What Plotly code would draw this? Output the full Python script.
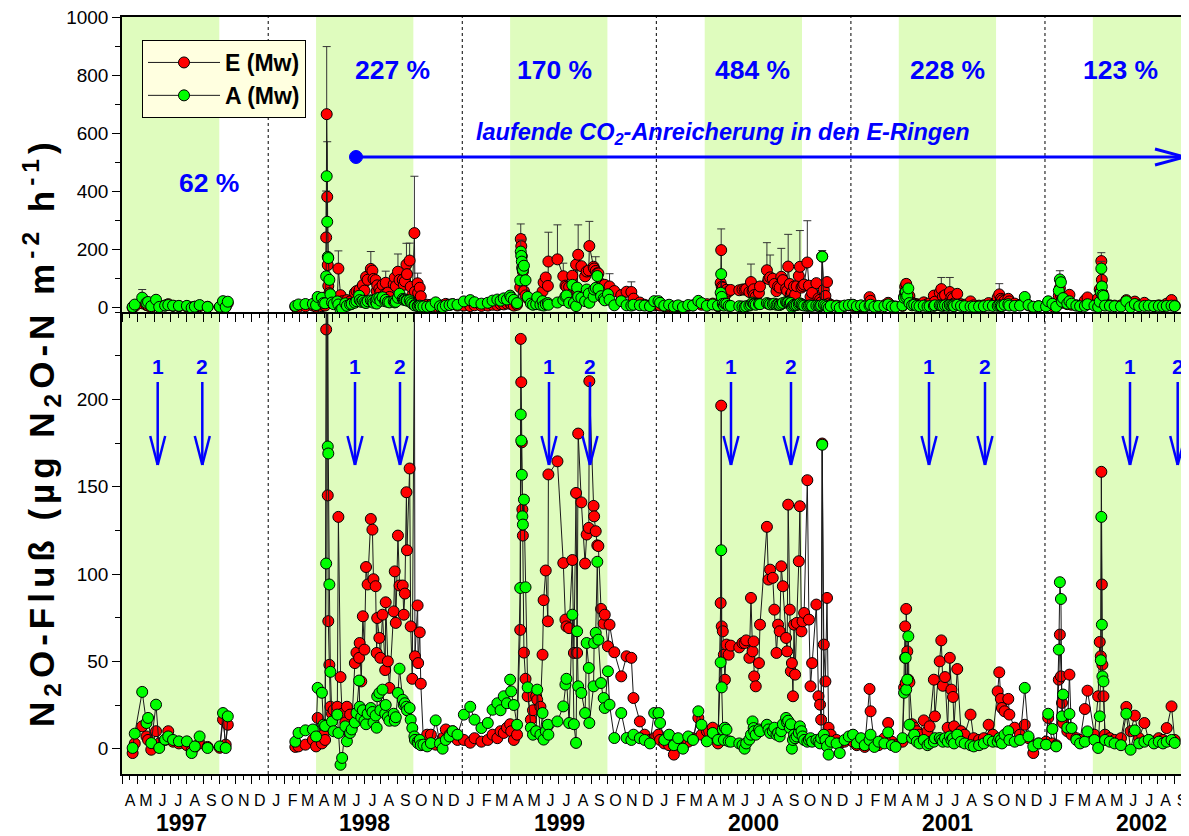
import plotly.graph_objects as go

# ---------------- data ----------------
d97 = ["1997-04-21","1997-04-25","1997-05-09","1997-05-17","1997-05-20","1997-05-26","1997-06-04","1997-06-10",
       "1997-06-21","1997-06-27","1997-07-06","1997-07-17","1997-08-01","1997-08-10","1997-08-16","1997-08-25",
       "1997-09-09","1997-10-02","1997-10-08","1997-10-13","1997-10-17"]
E97 = [-2.5, 3, 12.8, 7, 5, -0.6, 10, 3, 5, 10, 4, 3, 2, -1, 1, 3, 1, 0.5, 16.6, 2.3, 13.7]
A97 = [0.4, 8.6, 32.5, 14.7, 17.6, 3.2, 25.2, 0.4, 5.2, 7, 5, 4.2, 4.2, -2.5, 1.3, 7, 0.4, 1.3, 20.4, 0.4, 18.5]

d98 = ["1998-02-21","1998-02-27","1998-03-12","1998-03-26","1998-04-01","1998-04-04","1998-04-12","1998-04-15",
       "1998-04-18","1998-04-20","1998-04-21","1998-04-22","1998-04-23","1998-04-24","1998-04-26","1998-04-28",
       "1998-05-01","1998-05-04","1998-05-11","1998-05-13","1998-05-17","1998-05-20","1998-05-26","1998-05-29",
       "1998-06-04","1998-06-07","1998-06-13","1998-06-16","1998-06-21","1998-06-22","1998-06-25","1998-06-28",
       "1998-07-01","1998-07-04","1998-07-07","1998-07-13","1998-07-16","1998-07-18","1998-07-22","1998-07-24",
       "1998-07-25","1998-07-29","1998-07-31","1998-08-04","1998-08-09","1998-08-10","1998-08-14","1998-08-17",
       "1998-08-25","1998-08-27","1998-08-29","1998-09-02","1998-09-05","1998-09-11","1998-09-13","1998-09-15",
       "1998-09-18","1998-09-19","1998-09-24","1998-09-26","1998-09-29","1998-10-03","1998-10-04","1998-10-09",
       "1998-10-10","1998-10-13","1998-10-15","1998-10-20","1998-10-27","1998-11-03","1998-11-12","1998-11-20",
       "1998-11-25","1998-12-01","1998-12-08","1998-12-14","1998-12-23"]
E98 = [1, 1.3, 2.3, 5, 1.3, 17.6, 3, 8, 5, 240, 665, 380, 145, 73, 48, 24, 20, 22, 24, 132.7, 41, 20, 15, 24,
       19.5, 12, 49, 55, 52, 60.5, 38.5, 75.8, 56.7, 104, 94, 131.5, 125.4, 97, 93, 54.8, 74.8, 63.4, 52, 76.7,
       45, 83.8, 50, 34.8, 78.6, 101.5, 72, 122, 93.4, 93.4, 76.7, 88.8, 146.8, 113.6, 160.4, 70, 40, 255, 52.9,
       82, 49, 66.6, 37.2, 4, 8, 8, 2.3, 3, 6, 11, 8, 10, 5]
A98 = [4, 9, 10.5, 11, 7, 34.8, 32, 13.7, 13, 106, 451, 294, 173, 169, 94, 44, 15.6, 10, 19.5, 9, -9.2, -5.3,
       12.8, 4.2, 9, 11, 15, 20.4, 39, 24, 18, 22, 16, 14, 20, 23.3, 21, 15, 19, 12, 30, 31.9, 22, 33.8, 20, 25,
       18, 16, 20, 16, 18, 31.9, 45.8, 28, 25, 26, 24, 22, 23.3, 16.6, 11.8, 7, 5, 4, 3, 5, 2, 2.3, 1.3, 3.2,
       16.2, 3, 0, 5, 7, 10, 8]

d99 = ["1999-01-04","1999-01-16","1999-01-24","1999-02-06","1999-02-18","1999-02-27","1999-03-08","1999-03-14",
       "1999-03-20","1999-03-26","1999-04-01","1999-04-03","1999-04-08","1999-04-14","1999-04-20","1999-04-21",
       "1999-04-22","1999-04-23","1999-04-24","1999-04-25","1999-04-27","1999-04-30","1999-05-04","1999-05-10",
       "1999-05-14","1999-05-20","1999-05-22","1999-05-28","1999-06-01","1999-06-03","1999-06-07","1999-06-11",
       "1999-06-12","1999-06-29","1999-07-10","1999-07-14","1999-07-16","1999-07-21","1999-07-27","1999-07-30",
       "1999-08-03","1999-08-05","1999-08-07","1999-08-13","1999-08-20","1999-08-23","1999-08-27","1999-08-28",
       "1999-09-05","1999-09-06","1999-09-09","1999-09-12","1999-09-14","1999-09-19","1999-09-24","1999-09-26",
       "1999-10-02","1999-10-05","1999-10-14","1999-10-27","1999-11-06","1999-11-15","1999-11-19","1999-12-01",
       "1999-12-10","1999-12-20","1999-12-28"]
E99 = [5, 3.4, 6, 4, 5, 8, 6, 10, 9, 12, 14, 10, 5, 8, 68, 234.6, 209.8, 175.4, 137, 122, 55, 40, 30, 16.6, 22,
       30, 28, 24, 53.8, 85, 102, 72.9, 157, 164.5, 106.3, 73.9, 70, 69, 108, 54.8, 146.4, 54.8, 180.4, 141, 106,
       122.6, 126.4, 210.4, 139, 133, 124.5, 116.4, 116, 80, 71.6, 76.7, 58.6, 71, 55.2, 41.4, 52.9, 52, 29, 15.6,
       8, 5, 6]
A99 = [19.5, 24, 16.6, 11.8, 14.7, 22.3, 26, 22, 30, 26, 39.5, 32.8, 25, 13.7, 92, 191.3, 176.4, 156.8, 133,
       128.3, 142.6, 92.4, 35.1, 12, 8, 10, 33.8, 8, 20.4, 5.2, 10, 13.7, 8, 15.6, 24.2, 36.7, 40, 14.7, 76.7, 14,
       3.3, 67.2, 35.7, 31.9, 20.4, 60.5, 46.2, 14.7, 35.7, 60.5, 66.3, 107, 62.4, 37.6, 29, 23.3, 44.3, 25.2,
       6.1, 20.4, 6.1, 5, 8, 6, 5, 3, 20.4]

d00 = ["2000-01-05","2000-01-08","2000-01-16","2000-01-25","2000-02-03","2000-02-11","2000-02-20","2000-03-01",
       "2000-03-10","2000-03-20","2000-03-26","2000-04-05","2000-04-16","2000-04-26","2000-05-01","2000-05-02",
       "2000-05-03","2000-05-05","2000-05-07","2000-05-09","2000-05-12","2000-05-16","2000-05-20","2000-06-05",
       "2000-06-11","2000-06-15","2000-06-18","2000-06-24","2000-06-27","2000-06-30","2000-07-02","2000-07-03",
       "2000-07-06","2000-07-12","2000-07-14","2000-07-27","2000-07-30","2000-08-02","2000-08-07","2000-08-10",
       "2000-08-14","2000-08-17","2000-08-20","2000-08-23","2000-08-26","2000-09-01","2000-09-03","2000-09-05",
       "2000-09-08","2000-09-10","2000-09-12","2000-09-14","2000-09-16","2000-09-18","2000-09-21","2000-09-25",
       "2000-09-27","2000-09-30","2000-10-02","2000-10-05","2000-10-11","2000-10-14","2000-10-17","2000-10-20",
       "2000-10-28","2000-11-01","2000-11-04","2000-11-06","2000-11-08","2000-11-11","2000-11-14","2000-11-17",
       "2000-11-20","2000-11-24","2000-12-05","2000-12-11","2000-12-20","2000-12-28"]
E00 = [8, 5, 3, 2, -3.4, 3, 1, 4, 6, 17.6, 8, 10, 12, 3, 83.4, 196.4, 70, 67.2, 53.8, 39.5, 59.6, 53.8, 59, 58,
       60.5, 60.5, 62, 52, 86.3, 55.7, 61.4, 41.4, 35.7, 49, 71, 127, 96.8, 102.5, 97.8, 79.6, 54.8, 71, 67.2,
       104.4, 93, 63.4, 55.7, 139.7, 79.6, 44.3, 49, 30, 71, 42.4, 72, 107.3, 138.8, 67.2, 72.9, 77.7, 153.7,
       73.9, 35.7, 49, 82.5, 30, 25.2, 16.6, 174.7, 59.6, 38.5, 86.3, 12, 8, 5, 3, 4, 6]
A00 = [20.4, 14.7, 5, 8, 2, 6, 0, 7, 5, 21.4, 13.7, 4.2, 9, 5, 49.4, 113.6, 35.1, 10.9, 5, 12, 10.9, 4.2, 4, 3,
       2, 0, 3, 5.2, 8, 15.6, 11.8, 10, 8, 11, 10, 13.7, 11, 9, 10, 12, 8, 9, 7, 10, 14, 17.6, 15, 16, 12, 14, 0,
       5, 8, 6, 7, 9, 12.8, 10, 7, 5, 4, 5, 6, 4, 5, 4, 3, 6, 174, 8, 5, 1.3, -3.4, 4, 3, -2.5, 5, 7]

d01 = ["2001-01-05","2001-01-12","2001-01-20","2001-01-27","2001-02-05","2001-02-07","2001-02-14","2001-02-22",
       "2001-03-05","2001-03-12","2001-03-19","2001-03-26","2001-04-08","2001-04-11","2001-04-13","2001-04-14",
       "2001-04-15","2001-04-17","2001-04-19","2001-04-21","2001-04-26","2001-04-30","2001-05-05","2001-05-10",
       "2001-05-18","2001-05-25","2001-05-29","2001-06-06","2001-06-08","2001-06-17","2001-06-20","2001-06-23",
       "2001-06-27","2001-07-02","2001-07-06","2001-07-09","2001-07-12","2001-07-14","2001-07-20","2001-07-27",
       "2001-08-03","2001-08-14","2001-08-20","2001-08-30","2001-09-08","2001-09-17","2001-09-25","2001-10-04",
       "2001-10-07","2001-10-10","2001-10-12","2001-10-17","2001-10-24","2001-10-26","2001-11-05","2001-11-15",
       "2001-11-24","2001-12-01","2001-12-10","2001-12-20"]
E01 = [4, 2, 3, 1, 34.2, 21.4, 3, 2, 6, 14.7, 4, 2, 4, 35, 70, 37.6, 80, 55.7, 39.5, 38, 14, 12, 10, 8, 16.2, 10,
       12.8, 39.5, 18.5, 50, 62, 36, 41, 12, 52, 33.8, 29.6, 12.8, 45.6, 10, 8, 19.5, 6, 5, 6, 13.7, 8, 32.8,
       43.7, 28.5, 23.3, 21.4, 28.5, 19.5, 12, 8, 13.7, 6, -2.5, 3]
A01 = [8, 3, 6, 2, 5, 8, 1, 4, 3, 9.3, 2, 1, 6, 32, 52, 52, 33.8, 39.5, 64.3, 13.7, 6, 8, 4, 3, 5, 2, 3, 4, 6,
       6.1, 5, 4, 6, 4, 7, 5, 6, 3, 8, 4, 3, 2, 1.3, 2, 3, 5, 4, 4, 6, 5, 3, 8, 10, 5, 4, 5, 34.8, 7, 1.3, 3]

d02 = ["2002-01-03","2002-01-07","2002-01-15","2002-01-22","2002-01-27","2002-01-29","2002-01-31","2002-02-02",
       "2002-02-04","2002-02-12","2002-02-16","2002-02-20","2002-03-01","2002-03-08","2002-03-17","2002-03-22",
       "2002-04-04","2002-04-11","2002-04-14","2002-04-16","2002-04-17","2002-04-18","2002-04-19","2002-04-21",
       "2002-04-24","2002-05-03","2002-05-12","2002-05-24","2002-06-03","2002-06-11","2002-06-19","2002-06-27",
       "2002-07-07","2002-07-15","2002-07-25","2002-08-03","2002-08-11","2002-08-18","2002-08-27","2002-09-02"]
E02 = [4, 17.6, 3, 2, 39.5, 65.3, 41.4, 26.2, 14.7, 10, 42.4, 8, 6, 5, 22.7, 33.2, 8, 30, 61.1, 52.9, 158.5, 94,
       48.1, 30, 8, 6, 5, 6, 23.9, 10, 18.9, 6, 14.7, 5, 4, 6, 5, 11.8, 24.2, 5]
A02 = [2.3, 20, 11.3, 1.3, 56.7, 95.3, 85.7, 18.5, 31, 12, 19.9, 11.8, 5, 3, 4, 9.9, 5, 0.4, 18.5, 50.6, 132.7,
       71, 41.4, 38.5, 5, 4, 3, 2, 20, -0.6, 10.5, 3, 4, 5, 3, 4, 3, 4, 5, 3.3]

# upward error bars (top panel)
errE_dates = ["1998-04-21","1998-04-22","1998-04-20","1998-05-13","1998-07-13","1998-08-10","1998-09-02",
              "1998-09-18","1998-09-24","1998-10-03","1998-10-09","1999-04-21","1999-04-22","1999-06-12",
              "1999-06-29","1999-07-10","1999-08-07","1999-08-28","1999-09-09","1999-10-05","1999-11-15",
              "2000-05-02","2000-06-27","2000-07-27","2000-08-02","2000-08-23","2000-09-05","2000-09-27",
              "2000-10-11","2001-04-15","2001-06-20","2001-07-06","2001-10-07","2002-04-17"]
errE_vals = [233, 190, 160, 61, 60, 40, 61, 73, 60, 196, 35, 52, 40, 101, 119, 45, 103, 85, 49, 44, 35, 73, 62,
             95, 77, 98, 111, 125, 144, 15, 40, 50, 37, 29]
errA_dates = ["1997-05-09", "1999-04-21", "2000-11-08", "2002-01-29", "2002-04-17"]
errA_vals = [28, 40, 21, 30, 25]

percent_labels = ["62 %", "227 %", "170 %", "484 %", "228 %", "123 %"]
years = [1997, 1998, 1999, 2000, 2001, 2002]
MONTH_LETTERS = ["J", "F", "M", "A", "M", "J", "J", "A", "S", "O", "N", "D"]

# ---------------- assemble series ----------------
dates = d97 + ["1997-12-15"] + d98 + d99 + d00 + d01 + d02
E = E97 + [None] + E98 + E99 + E00 + E01 + E02
A = A97 + [None] + A98 + A99 + A00 + A01 + A02
assert len(dates) == len(E) == len(A)
emap = dict(zip(errE_dates, errE_vals))
amap = dict(zip(errA_dates, errA_vals))
errE = [emap.get(d, 0) for d in dates]
errA = [amap.get(d, 0) for d in dates]
zeros = [0] * len(dates)

# ---------------- geometry helpers ----------------
# the page places the figure 8 px from the top-left corner (default body margin)
OFF = 8
FONT = "Liberation Sans, Arial, sans-serif"
RED, GREEN, BLUE, BAND = "#FF0000", "#00FF00", "#0000FF", "#DFFCBE"
W, H = 1189 - OFF, 836 - OFF
PLOT_L, PLOT_R, PLOT_T, PLOT_B = 122, 1188, 17, 774   # page pixels of the plot area
ML, MT = PLOT_L - OFF, PLOT_T - OFF
MR = W - (PLOT_R - OFF)
MB = H - (PLOT_B - OFF)
PW, PH = PLOT_R - PLOT_L, PLOT_B - PLOT_T


def pxx(x):
    return (x - PLOT_L) / PW


def pxy(y):
    return (PLOT_B - y) / PH


SPLIT = pxy(312)

# month ticks
mid, starts, mtext = [], [], []
yy, mm = 1997, 4
while (yy, mm) <= (2002, 9):
    starts.append(f"{yy}-{mm:02d}-01")
    mid.append(f"{yy}-{mm:02d}-16")
    mtext.append(MONTH_LETTERS[mm - 1])
    mm += 1
    if mm > 12:
        mm, yy = 1, yy + 1
starts.append("2002-10-01")

fig = go.Figure()
mk = lambda c: dict(size=11, color=c, line=dict(color="black", width=1))
ln = dict(color="#1a1a1a", width=1)

# top panel
fig.add_trace(go.Scatter(x=dates, y=E, mode="lines+markers", marker=mk(RED), line=ln, xaxis="x2", yaxis="y2",
                         showlegend=False, error_y=dict(type="data", symmetric=False, array=errE,
                                                        arrayminus=zeros, color="#333333", thickness=1, width=4)))
fig.add_trace(go.Scatter(x=dates, y=A, mode="lines+markers", marker=mk(GREEN), line=ln, xaxis="x2", yaxis="y2",
                         showlegend=False, error_y=dict(type="data", symmetric=False, array=errA,
                                                        arrayminus=zeros, color="#333333", thickness=1, width=4)))
# bottom panel
fig.add_trace(go.Scatter(x=dates, y=E, mode="lines+markers", marker=mk(RED), line=ln, name="E (Mw)",
                         xaxis="x", yaxis="y"))
fig.add_trace(go.Scatter(x=dates, y=A, mode="lines+markers", marker=mk(GREEN), line=ln, name="A (Mw)",
                         xaxis="x", yaxis="y"))

xcommon = dict(type="date", range=["1997-04-01", "2002-09-27"], tickmode="array", tickvals=mid,
               ticks="outside", ticklen=4, tickwidth=1, tickcolor="black", showline=True, linecolor="black",
               linewidth=1.5, showgrid=False, zeroline=False, automargin=False,
               minor=dict(tickmode="array", tickvals=starts, ticks="outside", ticklen=8, tickwidth=1,
                          tickcolor="black", showgrid=False))
ycommon = dict(ticks="outside", ticklen=8, tickwidth=1, tickcolor="black", showline=True, linecolor="black",
               linewidth=1.5, showgrid=False, zeroline=False, automargin=False, ticklabeloverflow="allow",
               tickfont=dict(family=FONT, size=19, color="black"))

shapes = []
for yr in years:
    shapes.append(dict(type="rect", xref="x", yref="paper", x0=f"{yr}-04-01", x1=f"{yr}-10-01", y0=0, y1=1,
                       fillcolor=BAND, line=dict(width=0), layer="below"))
for yr in years[1:]:
    shapes.append(dict(type="line", xref="x", yref="paper", x0=f"{yr}-01-01", x1=f"{yr}-01-01", y0=0, y1=1,
                       line=dict(color="black", width=1, dash="dot"), layer="below"))


def seg(x0, y0, x1, y1, w):
    shapes.append(dict(type="line", xref="paper", yref="paper", x0=pxx(x0), y0=pxy(y0), x1=pxx(x1), y1=pxy(y1),
                       line=dict(color=BLUE, width=w), layer="above"))


# long CO2 arrow
seg(356, 157, 1185, 157, 3)
seg(1185, 157, 1155, 149, 3)
seg(1185, 157, 1155, 165, 3)
shapes.append(dict(type="circle", xref="paper", yref="paper", x0=pxx(349.5), x1=pxx(362.5), y0=pxy(150.5),
                   y1=pxy(163.5), fillcolor=BLUE, line=dict(color=BLUE, width=1), layer="above"))

annotations = []
small_arrow_x = [157.7, 202.3, 355, 400, 549, 590, 731, 791, 929, 985, 1130, 1177.7]
for i, x in enumerate(small_arrow_x):
    seg(x, 382, x, 465, 2.5)
    seg(x, 465, x - 7.5, 436, 2.5)
    seg(x, 465, x + 7.5, 436, 2.5)
    annotations.append(dict(xref="paper", yref="paper", x=pxx(x), y=pxy(366), text="<b>%d</b>" % (i % 2 + 1),
                            showarrow=False, font=dict(family=FONT, size=21, color=BLUE),
                            xanchor="center", yanchor="middle"))

pct_pos = [(209, 183), (392, 70), (554, 70), (752, 70), (947, 70), (1120, 70)]
for t, (x, y) in zip(percent_labels, pct_pos):
    annotations.append(dict(xref="paper", yref="paper", x=pxx(x), y=pxy(y), text="<b>%s</b>" % t,
                            showarrow=False, font=dict(family=FONT, size=26.5, color=BLUE),
                            xanchor="center", yanchor="middle"))

annotations.append(dict(xref="paper", yref="paper", x=pxx(723), y=pxy(133),
                        text="<b><i>laufende CO<sub>2</sub>-Anreicherung in den E-Ringen</i></b>",
                        showarrow=False, font=dict(family=FONT, size=23.5, color=BLUE),
                        xanchor="center", yanchor="middle"))

for yr in years:
    xd = "1997-07-21" if yr == 1997 else f"{yr}-07-02"
    annotations.append(dict(xref="x", yref="paper", x=xd, y=pxy(823), text="<b>%d</b>" % yr, showarrow=False,
                            font=dict(family=FONT, size=23, color="black"), xanchor="center", yanchor="middle"))

annotations.append(dict(xref="paper", yref="paper", x=pxx(41), y=pxy(432), textangle=-90, showarrow=False,
                        text="<b><span style='letter-spacing:5px'>N<sub>2</sub>O-Fluß (µg N<sub>2</sub>O-N "
                             "m<sup>-2</sup> h<sup>-1</sup>)</span></b>",
                        font=dict(family=FONT, size=35, color="black"), xanchor="center", yanchor="middle"))

fig.update_layout(
    width=W, height=H, margin=dict(l=ML, r=MR, t=MT, b=MB, autoexpand=False),
    paper_bgcolor="white", plot_bgcolor="white",
    font=dict(family=FONT, color="black"),
    xaxis=dict(**xcommon, anchor="y", ticktext=mtext, ticklabelstandoff=7,
               tickfont=dict(family=FONT, size=16, color="black")),
    xaxis2=dict(**xcommon, anchor="y2", matches="x", showticklabels=False, mirror=True),
    yaxis=dict(**ycommon, domain=[0, SPLIT], range=[-14.5, 250], tickmode="array",
               tickvals=[0, 50, 100, 150, 200],
               minor=dict(tickmode="linear", tick0=0, dtick=25, ticks="outside", ticklen=5, tickcolor="black")),
    yaxis2=dict(**ycommon, domain=[SPLIT, 1], range=[-17, 1000], tickmode="array",
                tickvals=[0, 200, 400, 600, 800, 1000],
                minor=dict(tickmode="linear", tick0=0, dtick=100, ticks="outside", ticklen=5, tickcolor="black")),
    legend=dict(x=pxx(142), y=pxy(40), xanchor="left", yanchor="top", bgcolor="#FFFFE0", bordercolor="black",
                borderwidth=1, font=dict(family=FONT, size=23, color="black", weight="bold"), itemwidth=72,
                tracegroupgap=0),
    shapes=shapes, annotations=annotations,
)

fig.write_html("out.html")
